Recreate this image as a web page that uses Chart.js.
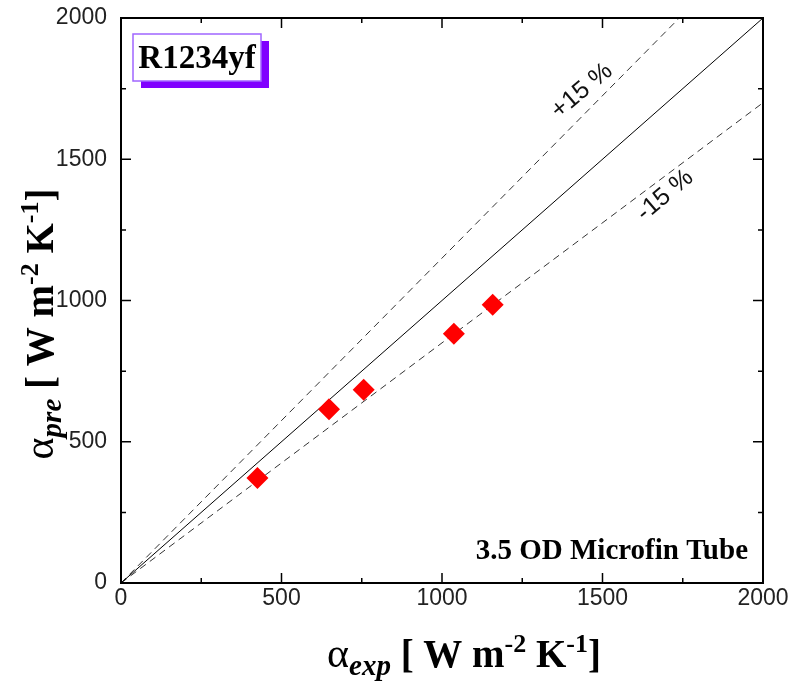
<!DOCTYPE html>
<html>
<head>
<meta charset="utf-8">
<script src="https://cdn.jsdelivr.net/npm/chart.js@4.4.1/dist/chart.umd.min.js"></script>
<style>
    html, body { margin: 0; padding: 0; background: #fff; }
</style>
</head>
<body>
<canvas id="js--chart" width="793" height="681"></canvas>
<script>
// measured (exp) vs predicted (pre) heat transfer coefficient, R1234yf
const alphaExp = [425, 648, 756, 1037, 1158];
const alphaPre = [372, 615, 684, 882, 985];

const majorTicks = [0, 500, 1000, 1500, 2000];
const minorTicks = [250, 750, 1250, 1750];

// parity line and the +/-15 % band
const parityX = [0, 2000];
const parityY = [0, 2000];
const plusX = [0, 2000];
const plusY = [0, 2300];
const minusX = [0, 2000];
const minusY = [0, 1700];

const serif = '"Liberation Serif", "Times New Roman", serif';
const sans = '"Liberation Sans", Arial, sans-serif';

function toPoints(xs, ys) {
    return xs.map((x, i) => ({x: x, y: ys[i]}));
}

// draws text pieces with their own fonts and baseline shifts, one after the other
function richWidth(ctx, parts) {
    let w = 0;
    parts.forEach(p => {
        ctx.font = p[1];
        w += ctx.measureText(p[0]).width;
    });
    return w;
}
function drawRich(ctx, parts, x, y) {
    let cx = x;
    parts.forEach(p => {
        ctx.font = p[1];
        ctx.fillText(p[0], cx, y + p[2]);
        cx += ctx.measureText(p[0]).width;
    });
}

function axisTitle(sub) {
    return [
        ['\u03b1', '42px ' + serif, 0],
        [sub, 'italic bold 29px ' + serif, 8],
        [' [ W m', 'bold 39px ' + serif, 0],
        ['-2', 'bold 26px ' + serif, -15],
        [' K', 'bold 39px ' + serif, 0],
        ['-1', 'bold 26px ' + serif, -15],
        [']', 'bold 39px ' + serif, 0]
    ];
}

const decorations = {
    id: 'decorations',
    afterDraw(chart) {
        const ctx = chart.ctx;
        const a = chart.chartArea;
        const xs = chart.scales.x;
        const ys = chart.scales.y;
        ctx.save();

        // frame
        ctx.strokeStyle = '#000';
        ctx.lineWidth = 2;
        ctx.strokeRect(a.left, a.top, a.right - a.left, a.bottom - a.top);

        // inward ticks on all four sides
        ctx.lineWidth = 1.5;
        const tick = (v, len) => {
            const px = xs.getPixelForValue(v);
            const py = ys.getPixelForValue(v);
            ctx.beginPath();
            ctx.moveTo(px, a.bottom); ctx.lineTo(px, a.bottom - len);
            ctx.moveTo(px, a.top); ctx.lineTo(px, a.top + len);
            ctx.moveTo(a.left, py); ctx.lineTo(a.left + len, py);
            ctx.moveTo(a.right, py); ctx.lineTo(a.right - len, py);
            ctx.stroke();
        };
        majorTicks.forEach(v => tick(v, 10));
        minorTicks.forEach(v => tick(v, 5));

        // band labels
        ctx.fillStyle = '#111';
        ctx.font = '25px ' + sans;
        ctx.textAlign = 'center';
        ctx.textBaseline = 'middle';
        [['+15 %', 1436, 1742], ['-15 %', 1695, 1372]].forEach(l => {
            ctx.save();
            ctx.translate(xs.getPixelForValue(l[1]), ys.getPixelForValue(l[2]));
            ctx.rotate(-40 * Math.PI / 180);
            ctx.fillText(l[0], 0, 0);
            ctx.restore();
        });

        // refrigerant tag with a solid drop shadow
        const bx = a.left + 12, by = a.top + 16, bw = 128, bh = 47;
        ctx.fillStyle = '#8000ff';
        ctx.fillRect(bx + 8, by + 7, bw, bh);
        ctx.fillStyle = '#fff';
        ctx.fillRect(bx, by, bw, bh);
        ctx.strokeStyle = '#a066ff';
        ctx.lineWidth = 1.5;
        ctx.strokeRect(bx, by, bw, bh);
        ctx.fillStyle = '#000';
        ctx.font = 'bold 33px ' + serif;
        ctx.textBaseline = 'alphabetic';
        ctx.fillText('R1234yf', bx + bw / 2, by + 34);

        ctx.textAlign = 'right';
        ctx.font = 'bold 29px ' + serif;
        ctx.fillText('3.5 OD Microfin Tube', a.right - 15, a.bottom - 24);

        // axis titles
        ctx.textAlign = 'left';
        const xt = axisTitle('exp');
        drawRich(ctx, xt, 464 - richWidth(ctx, xt) / 2, 667);

        const yt = axisTitle('pre');
        ctx.save();
        ctx.translate(53, 324);
        ctx.rotate(-Math.PI / 2);
        drawRich(ctx, yt, -richWidth(ctx, yt) / 2, 0);
        ctx.restore();

        ctx.restore();
    }
};

const axis = {
    type: 'linear',
    min: 0,
    max: 2000,
    grid: { display: false, drawTicks: false },
    border: { display: false },
    ticks: {
        stepSize: 500,
        color: '#222',
        font: { family: sans, size: 23 },
        callback: v => String(v)
    }
};

const config = {
    type: 'scatter',
    data: {
        datasets: [
            {
                data: toPoints(alphaExp, alphaPre),
                pointStyle: 'rectRot',
                pointRadius: 11,
                backgroundColor: '#ff0000',
                borderWidth: 0,
                order: 0
            },
            {
                type: 'line',
                data: toPoints(parityX, parityY),
                borderColor: '#000',
                borderWidth: 1,
                pointRadius: 0,
                order: 1
            },
            {
                type: 'line',
                data: toPoints(plusX, plusY),
                borderColor: '#333',
                borderWidth: 1,
                borderDash: [7, 5],
                pointRadius: 0,
                order: 1
            },
            {
                type: 'line',
                data: toPoints(minusX, minusY),
                borderColor: '#333',
                borderWidth: 1,
                borderDash: [7, 5],
                pointRadius: 0,
                order: 1
            }
        ]
    },
    options: {
        responsive: false,
        animation: false,
        devicePixelRatio: 1,
        layout: { padding: { top: 18, right: 30, left: 0, bottom: 0 } },
        plugins: { legend: { display: false }, tooltip: { enabled: false } },
        scales: {
            x: Object.assign({}, axis, {
                ticks: Object.assign({}, axis.ticks, { padding: 2 }),
                afterFit: s => { s.height = 98; s.paddingLeft = 0; s.paddingRight = 0; }
            }),
            y: Object.assign({}, axis, {
                ticks: Object.assign({}, axis.ticks, { padding: 14 }),
                afterFit: s => { s.width = 121; s.paddingTop = 0; s.paddingBottom = 0; }
            })
        }
    },
    plugins: [decorations]
};

const chart1 = new Chart(document.getElementById("js--chart"), config);
</script>
</body>
</html>
